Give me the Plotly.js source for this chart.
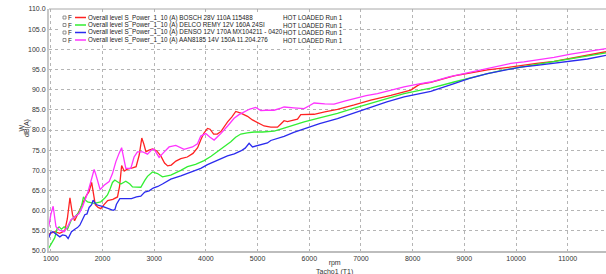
<!DOCTYPE html>
<html>
<head>
<meta charset="utf-8">
<script src="https://cdn.plot.ly/plotly-3.0.1.min.js"></script>
<style>html,body{margin:0;padding:0;background:#fff;}#chart{width:606px;height:274px;}</style>
</head>
<body>
<div id="chart"></div>
<script>
// ---- data ----
const seriesNames = [
  "Overall level S_Power_1_10 (A) BOSCH 28V 110A 115488",
  "Overall level S_Power_1_10 (A) DELCO REMY 12V 160A 24SI",
  "Overall level S_Power_1_10 (A) DENSO 12V 170A MX104211 - 0420",
  "Overall level S_Power_1_10 (A) AAN8185 14V 150A 11.204.276"
];
const runLabel = "HOT LOADED Run 1";

const boschRpm = [950,1000,1080,1170,1270,1320,1370,1420,1460,1500,1560,1625,1690,1740,1790,1830,1860,1915,1967,2030,2100,2200,2290,2330,2370,2420,2480,2580,2650,2710,2760,2800,2840,2900,2970,3050,3130,3200,3260,3330,3420,3515,3640,3750,3840,3900,3960,4031,4080,4150,4220,4290,4352,4420,4500,4578,4675,4805,4900,4998,5126,5255,5385,5450,5513,5577,5700,5772,5836,5950,6093,6300,6545,6870,7190,7580,7963,8093,8157,8350,8801,9100,9447,9770,10091,10400,10735,11050,11381,11740];
const boschDb = [54.0,54.4,54.8,54.4,55.0,58.0,63.2,59.0,57.5,58.5,60.4,62.0,63.8,64.7,67.0,63.5,61.5,60.8,60.5,61.5,62.5,62.8,63.4,66.0,71.2,69.8,70.3,70.6,70.9,73.8,78.0,76.5,74.6,75.0,75.3,74.8,73.5,71.8,71.1,71.3,72.3,72.9,73.3,74.2,75.6,77.5,79.2,80.4,80.2,79.0,79.0,79.6,80.8,82.0,83.2,84.6,84.2,83.4,82.5,81.8,81.0,80.7,80.7,81.5,82.3,82.1,82.5,82.7,83.8,83.9,83.9,84.5,85.1,86.2,87.4,88.6,89.9,91.0,91.4,91.8,93.4,94.1,94.9,95.4,96.0,96.5,97.0,97.7,98.5,99.4];

const delcoRpm = [960,1014,1077,1120,1160,1207,1257,1323,1400,1480,1548,1600,1632,1670,1710,1838,1967,2050,2096,2150,2193,2238,2290,2354,2451,2530,2580,2741,2818,2870,2967,3064,3160,3321,3515,3644,3800,3965,4100,4224,4350,4482,4575,4675,4800,4932,5100,5320,5450,5578,5803,5900,6200,6545,6870,7190,7500,7834,8157,8350,8801,9100,9447,9770,10091,10400,10735,11050,11381,11740];
const delcoDb = [50.7,52.0,53.3,55.5,56.0,55.4,56.0,55.4,57.8,58.7,59.6,61.5,63.4,62.6,62.2,61.8,62.2,63.2,63.9,65.5,67.0,67.6,67.2,66.6,67.3,66.6,65.9,65.8,67.5,68.5,69.6,69.2,68.4,68.8,70.0,70.9,71.5,72.4,73.5,74.6,75.8,77.1,78.2,79.0,79.3,79.5,79.5,79.7,80.2,80.7,81.7,82.0,83.0,84.1,85.4,86.6,87.8,89.0,89.9,90.4,91.9,92.9,94.0,94.9,95.6,96.3,97.0,97.7,98.3,99.1];

const densoRpm = [960,1000,1040,1100,1174,1226,1290,1335,1400,1464,1516,1561,1613,1658,1700,1741,1790,1818,1860,1900,2012,2110,2206,2240,2270,2335,2400,2496,2560,2657,2741,2818,2902,2980,3070,3160,3257,3321,3515,3708,3901,4031,4200,4417,4550,4675,4760,4836,4901,5000,5191,5255,5449,5513,5700,5836,5900,6200,6545,6870,7190,7500,7834,8157,8350,8801,9100,9447,9770,10091,10400,10735,11050,11381,11740];
const densoDb = [53.3,54.6,54.8,54.2,53.5,54.0,53.8,53.1,54.8,55.4,55.8,56.4,57.7,59.0,59.2,60.8,61.5,62.6,61.8,61.4,61.0,60.5,60.1,60.3,61.6,63.0,63.0,62.9,63.0,63.4,63.6,64.6,64.9,65.6,66.0,66.6,67.2,67.8,68.6,69.6,70.5,71.4,72.4,73.6,74.1,74.8,75.5,76.7,75.8,76.1,76.8,77.4,78.2,78.4,79.4,80.0,80.4,81.6,82.8,84.2,85.7,87.0,88.2,89.0,89.6,91.5,92.8,94.0,94.8,95.6,96.0,96.6,97.1,97.6,98.5];

const aanRpm = [960,1000,1045,1080,1100,1161,1257,1323,1387,1483,1548,1613,1660,1710,1774,1838,1870,1903,1954,2031,2128,2193,2257,2320,2370,2395,2451,2548,2611,2676,2773,2870,2960,3000,3095,3190,3288,3418,3578,3740,3837,3901,3998,4080,4159,4230,4288,4420,4546,4640,4739,4850,4965,5062,5160,5320,5450,5513,5700,5900,6000,6093,6300,6480,6700,6867,7100,7319,7580,7834,8100,8350,8700,8995,9350,9704,9898,10150,10414,10735,11058,11400,11740];
const aanDb = [56.0,59.0,61.1,58.0,56.0,55.2,54.8,56.0,57.7,58.7,59.3,61.0,62.5,64.3,67.2,70.2,69.0,67.6,65.2,66.3,67.2,69.2,72.1,74.2,75.6,74.0,70.5,70.5,73.3,74.6,74.6,74.0,75.2,75.2,73.2,74.5,75.8,76.2,75.2,75.8,76.6,78.5,79.1,78.2,77.5,78.4,79.1,81.0,82.9,83.8,84.5,85.2,85.6,84.8,84.9,84.9,85.4,85.7,85.5,85.3,86.0,86.7,86.5,86.4,87.2,87.8,88.5,89.0,89.9,90.7,91.4,91.9,93.2,94.0,95.0,95.8,96.5,96.9,97.4,98.0,98.8,99.5,100.2];

const xTickVals = [1000,2000,3000,4000,5000,6000,7000,8000,9000,10000,11000,12000];
const yTickVals = [50,55,60,65,70,75,80,85,90,95,100,105,110];
const xTitle = "rpm<br>Tacho1 (T1)";
const yTitleLines = ["W", "dB(A)"];

// ---- styles ----
const colors = ["#ff2222", "#33ee33", "#2b2bee", "#ff33ff"];
const W = 606, H = 274;
const PL = 49, PR = 606, PT = 9, PB = 251;
const fx = px => (px - PL) / (PR - PL);
const fy = py => (PB - py) / (PB - PT);

const xs = [boschRpm, delcoRpm, densoRpm, aanRpm];
const ys = [boschDb, delcoDb, densoDb, aanDb];
const traces = xs.map((x, i) => ({
  type: "scatter", mode: "lines", x: x, y: ys[i], name: seriesNames[i],
  line: {color: colors[i], width: 1.3}, showlegend: false, hoverinfo: "skip"
}));

const font = {family: "Liberation Sans, Arial, sans-serif", size: 7, color: "#333"};
const legFont = {family: "Liberation Sans, Arial, sans-serif", size: 6.3, color: "#222"};
const shapes = [
  {type: "line", xref: "paper", yref: "paper", x0: 0, x1: 1, y0: 1, y1: 1, line: {color: "#a8a8a8", width: 1}},
  {type: "rect", xref: "paper", yref: "paper", x0: fx(61), x1: fx(343), y0: fy(44), y1: fy(13), fillcolor: "#fff", line: {width: 0}, layer: "above"}
];
const annotations = [];
const rowsY = [17.5, 25, 32.5, 40];
seriesNames.forEach((n, i) => {
  const y = fy(rowsY[i]);
  shapes.push({type: "rect", xref: "paper", yref: "paper", x0: fx(63), x1: fx(66), y0: fy(rowsY[i] + 1.5), y1: fy(rowsY[i] - 1.5), line: {color: "#777", width: 0.8}, fillcolor: "#fff", layer: "above"});
  shapes.push({type: "line", xref: "paper", yref: "paper", x0: fx(75), x1: fx(86), y0: y, y1: y, line: {color: colors[i], width: 1.5}, layer: "above"});
  annotations.push({xref: "paper", yref: "paper", x: fx(67), y: y, xanchor: "left", yanchor: "middle", text: "F", showarrow: false, font: legFont, borderpad: 0});
  annotations.push({xref: "paper", yref: "paper", x: fx(86.5), y: y, xanchor: "left", yanchor: "middle", text: n, showarrow: false, font: legFont, borderpad: 0});
  annotations.push({xref: "paper", yref: "paper", x: fx(281.5), y: y, xanchor: "left", yanchor: "middle", text: runLabel, showarrow: false, font: legFont, borderpad: 0});
});
annotations.push({xref: "paper", yref: "paper", x: fx(334), y: fy(257.5), xanchor: "center", yanchor: "top", text: xTitle, showarrow: false, font: font, borderpad: 0});
annotations.push({xref: "paper", yref: "paper", x: fx(20.5), y: fy(128), xanchor: "center", yanchor: "middle", text: yTitleLines[0], textangle: -90, showarrow: false, font: font, borderpad: 0});
annotations.push({xref: "paper", yref: "paper", x: fx(27), y: fy(128), xanchor: "center", yanchor: "middle", text: yTitleLines[1], textangle: -90, showarrow: false, font: font, borderpad: 0});

const layout = {
  width: W, height: H,
  margin: {l: PL, r: W - PR, t: PT, b: H - PB, pad: 0},
  paper_bgcolor: "#fff", plot_bgcolor: "#fff",
  font: font,
  showlegend: false,
  xaxis: {
    range: [965, 11740], tickvals: xTickVals, ticktext: xTickVals.map(String),
    showgrid: true, gridcolor: "#b5b5b5", griddash: "dot", gridwidth: 1,
    zeroline: false, showline: true, linecolor: "#bdbdbd", linewidth: 2,
    ticks: "", tickfont: font, automargin: false
  },
  yaxis: {
    range: [50, 110], tickvals: yTickVals, ticktext: yTickVals.map(v => v.toFixed(1)),
    showgrid: true, gridcolor: "#b5b5b5", griddash: "dot", gridwidth: 1,
    zeroline: false, showline: true, linecolor: "#c8c8c8", linewidth: 2,
    ticks: "", tickfont: font, automargin: false
  },
  shapes: shapes,
  annotations: annotations
};
Plotly.newPlot("chart", traces, layout, {displayModeBar: false, staticPlot: true});
</script>
</body>
</html>
